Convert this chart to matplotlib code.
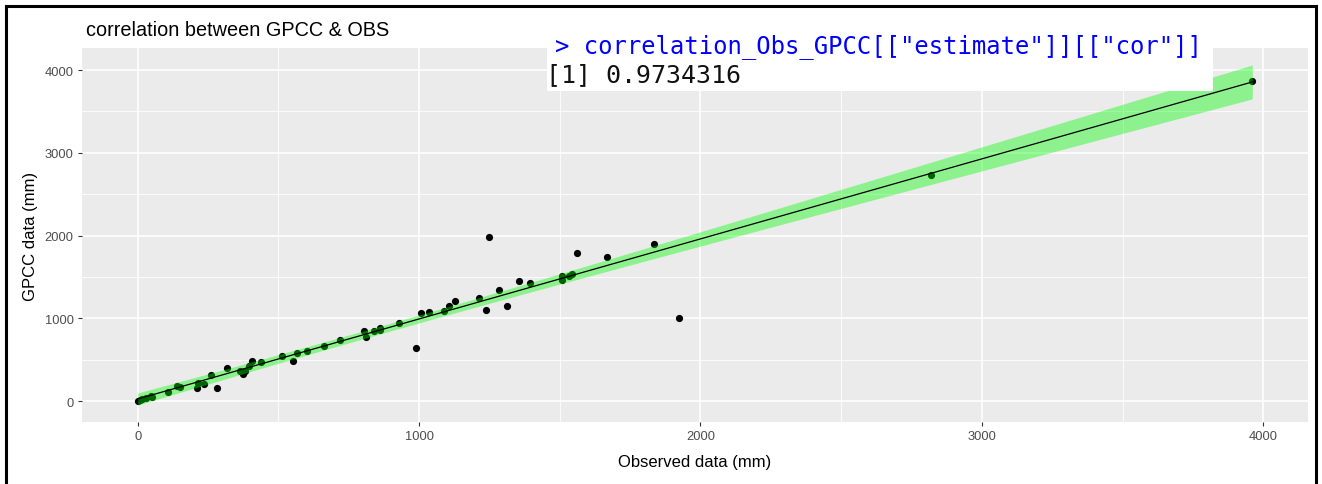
import numpy as np
import matplotlib
matplotlib.use("Agg")
import matplotlib.pyplot as plt
from matplotlib.lines import Line2D
from matplotlib.patches import Rectangle
from matplotlib.ticker import MultipleLocator, FixedLocator

# ---------------- data ----------------
obs = [0, 8, 16, 31, 46, 50, 109, 140, 149, 209, 215, 235, 262, 280, 316, 365,
       373, 383, 397, 407, 439, 513, 552, 567, 602, 661, 720, 803, 811, 838,
       860, 862, 927, 990, 1008, 1036, 1087, 1107, 1126, 1214, 1237, 1249,
       1285, 1312, 1356, 1395, 1507, 1507, 1531, 1542, 1562, 1669, 1835, 1924,
       2818, 3961]
gpcc = [0, 10, 24, 40, 55, 48, 108, 184, 165, 157, 217, 209, 309, 157, 398, 358,
        329, 358, 418, 478, 466, 538, 486, 578, 599, 659, 739, 847, 771, 847,
        888, 859, 940, 639, 1060, 1080, 1088, 1153, 1208, 1241, 1100, 1976,
        1341, 1148, 1450, 1430, 1514, 1462, 1510, 1530, 1783, 1743, 1892, 1008,
        2727, 3871]

title = "correlation between GPCC & OBS"
x_label = "Observed data (mm)"
y_label = "GPCC data (mm)"
console_cmd = '> correlation_Obs_GPCC[["estimate"]][["cor"]]'
console_out = "[1] 0.9734316"
x_ticks = [0, 1000, 2000, 3000, 4000]
y_ticks = [0, 1000, 2000, 3000, 4000]

# ---------------- linear fit with 95% CI (like geom_smooth(method="lm")) -----
x = np.asarray(obs, float)
y = np.asarray(gpcc, float)
n = len(x)
slope, intercept = np.polyfit(x, y, 1)
resid = y - (slope * x + intercept)
s = np.sqrt(np.sum(resid ** 2) / (n - 2))
xbar = x.mean()
sxx = np.sum((x - xbar) ** 2)
xs = np.linspace(x.min(), x.max(), 80)
ys = slope * xs + intercept
se = s * np.sqrt(1.0 / n + (xs - xbar) ** 2 / sxx)
tq = 2.005
lo, hi = ys - tq * se, ys + tq * se

# ---------------- figure ----------------
W, H = 1322, 485
fig = plt.figure(figsize=(W / 100, H / 100), dpi=100)
fig.patch.set_facecolor("white")

pl, pr, pt, pb = 82, 1308, 49, 423
ax = fig.add_axes([pl / W, 1 - pb / H, (pr - pl) / W, (pb - pt) / H])
ax.set_facecolor("#EBEBEB")
for sp in ax.spines.values():
    sp.set_visible(False)

ax.scatter(x, y, s=27, color="black", linewidths=0, zorder=2)
ax.fill_between(xs, lo, hi, color="#00FF00", alpha=0.4, linewidth=0, zorder=3)
ax.plot(xs, ys, color="black", linewidth=0.9, zorder=4)

ax.margins(x=0.05, y=0.05)
ax.xaxis.set_major_locator(FixedLocator(x_ticks))
ax.yaxis.set_major_locator(FixedLocator(y_ticks))
ax.xaxis.set_minor_locator(MultipleLocator(500))
ax.yaxis.set_minor_locator(MultipleLocator(500))
ax.set_xticklabels([str(t) for t in x_ticks])
ax.set_yticklabels([str(t) for t in y_ticks])
ax.set_axisbelow(True)
ax.grid(which="major", color="white", linewidth=1.2)
ax.grid(which="minor", color="white", linewidth=0.6)
ax.tick_params(which="major", length=3, width=0.8, color="#333333",
               labelcolor="#4D4D4D", labelsize=9.3, pad=3)
ax.tick_params(which="minor", length=0)
for lab in ax.get_xticklabels() + ax.get_yticklabels():
    lab.set_family("Liberation Sans")

fig.text(86 / W, 1 - 31 / H, title, ha="left", va="center",
         fontsize=14.3, family="Liberation Sans", color="black")
fig.text((pl + pr) / 2 / W, 1 - 463 / H, x_label, ha="center", va="center",
         fontsize=12, family="Liberation Sans", color="black")
fig.text(30 / W, 1 - (pt + pb) / 2 / H, y_label, ha="center", va="center",
         rotation=90, fontsize=12, family="Liberation Sans", color="black")

# console overlay box
box = Rectangle((547 / W, 1 - 92 / H), (1213 - 547) / W, (92 - 30) / H,
                transform=fig.transFigure, facecolor="white", edgecolor="none",
                zorder=10)
fig.patches.append(box)
fig.text(555 / W, 1 - 47 / H, console_cmd, ha="left", va="center",
         fontsize=17.2, family="DejaVu Sans Mono", color="#0000FF", zorder=11)
fig.text(546 / W, 1 - 75 / H, console_out, ha="left", va="center",
         fontsize=18, family="DejaVu Sans Mono", color="#111111", zorder=11)

# outer black frame (left, top, right)
lw = 2.2
fig.add_artist(Line2D([5.5 / W, 5.5 / W], [0, 1 - 6.5 / H], transform=fig.transFigure,
                      color="black", linewidth=lw, solid_capstyle="projecting"))
fig.add_artist(Line2D([5.5 / W, 1315.5 / W], [1 - 6.5 / H, 1 - 6.5 / H],
                      transform=fig.transFigure, color="black", linewidth=lw,
                      solid_capstyle="projecting"))
fig.add_artist(Line2D([1315.5 / W, 1315.5 / W], [0, 1 - 6.5 / H], transform=fig.transFigure,
                      color="black", linewidth=lw, solid_capstyle="projecting"))

fig.savefig("out.png", dpi=100)
